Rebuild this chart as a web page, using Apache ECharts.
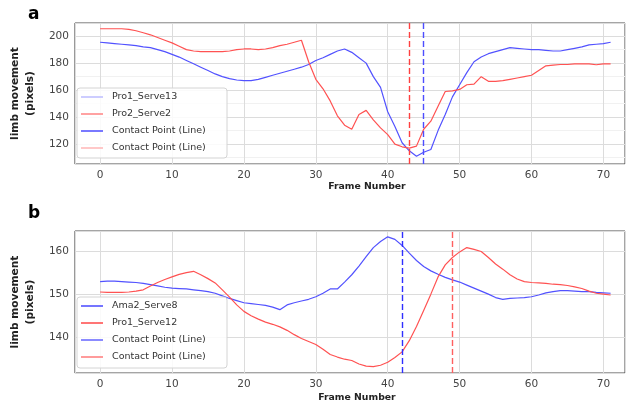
<!DOCTYPE html>
<html>
<head>
<meta charset="utf-8">
<script src="https://cdn.jsdelivr.net/npm/echarts@6/dist/echarts.min.js"></script>
<style>
html,body{margin:0;padding:0;background:#fff;}
#chart{width:628px;height:404px;}
</style>
</head>
<body>
<div id="chart"></div>
<script>
// ---------- data ----------
const frames = Array.from({length: 72}, (_, i) => i);

const topBlueName = 'Pro1_Serve13';
const topBlue = [195.5,195,194.5,194,193.5,193,192,191.5,190,188.5,
  186.5,184.5,182,179.5,177,174.5,172,170,168.5,167.5,
  167,167,168,169.5,171,172.5,174,175.5,177,179,
  182,184,186.5,189,190.5,188,184,180,170,162,
  144,133,121,115,111,114,116,130,142,155,
  164,173,181,184.5,187,188.5,190,191.5,191,190.5,
  190,190,189.5,189,189,190,191,192,193.5,194,
  194.5,195.5];

const topRedName = 'Pro2_Serve2';
const topRed = [205.5,205.5,205.5,205.5,205,204,202.5,201,199,197,
  195,192.5,190,189,188.5,188.5,188.5,188.5,189,190,
  190.5,190.5,190,190.5,191.5,193,194,195.5,197,181,
  168,161,152,141,134,131,142,145,138,132,
  127,120,118,117,118.5,131,137,148,159,159.5,
  160.5,164,164.5,170,166.5,166.5,167,168,169,170,
  171,174.5,178,178.5,179,179,179.5,179.5,179.5,178.8,
  179.5,179.5];

const topContactRed = 43;
const topContactBlue = 45;

const botBlueName = 'Ama2_Serve8';
const botBlue = [152.9,153,153,152.9,152.8,152.7,152.5,152.2,151.9,151.6,
  151.4,151.3,151.2,151,150.8,150.6,150.2,149.6,149,148.5,
  148,147.8,147.6,147.4,147,146.4,147.5,148,148.4,148.8,
  149.4,150.2,151.2,151.2,152.8,154.5,156.5,158.7,160.8,162.2,
  163.3,162.7,161.3,159.5,157.8,156.4,155.4,154.6,153.9,153.3,
  152.8,152.1,151.4,150.7,150,149.2,148.8,149,149.1,149.2,
  149.4,149.8,150.3,150.6,150.8,150.8,150.7,150.6,150.6,150.4,
  150.3,150.2];

const botRedName = 'Pro1_Serve12';
const botRed = [150.5,150.4,150.4,150.4,150.5,150.7,151,151.9,152.7,153.4,
  154,154.6,155,155.3,154.5,153.6,152.6,151,149.3,147.5,
  146,145,144.2,143.5,143,142.4,141.6,140.6,139.7,139,
  138.3,137.2,136,135.4,134.9,134.6,133.8,133.3,133.2,133.5,
  134.2,135.3,136.6,139.2,142.5,146.2,150,154,156.8,158.5,
  159.8,160.8,160.4,159.9,158.5,157,155.8,154.5,153.5,152.9,
  152.7,152.6,152.5,152.3,152.2,152,151.7,151.3,150.7,150.2,
  150,149.8];

const botContactBlue = 42;
const botContactRed = 49;

const contactLabel = 'Contact Point (Line)';
const xTitle = 'Frame Number';
const yTitle = 'limb movement\n(pixels)';
const panelLabels = ['a', 'b'];

// ---------- chart ----------
const FONT = 'DejaVu Sans';
const BLUE = '#5252ff';
const RED = '#ff5252';

function pairs(ys){ return frames.map((x, i) => [x, ys[i]]); }

function xAxisCfg(gridIndex, pad){
  return {
    type: 'value', gridIndex, min: -3.5, max: 73, splitNumber: 8,
    axisLine: {show: false}, axisTick: {show: false},
    axisLabel: {
      color: '#444', fontSize: 10.5, fontFamily: FONT, margin: 6,
      showMinLabel: false, showMaxLabel: false,
      formatter: v => (v % 10 === 0 ? String(v) : '')
    },
    splitLine: {show: true, lineStyle: {color: '#dcdcdc', width: 1}},
    name: xTitle, nameLocation: 'middle', nameGap: pad.gap,
    nameTextStyle: {fontFamily: FONT, fontWeight: 'bold', fontSize: 9.3, color: '#222', padding: [0, 0, 0, pad.shift]}
  };
}

function yAxisCfg(gridIndex, min, max, split, minor){
  return {
    type: 'value', gridIndex, min, max, splitNumber: split,
    axisLine: {show: false}, axisTick: {show: false},
    axisLabel: {
      color: '#444', fontSize: 10.5, fontFamily: FONT, margin: 6,
      showMinLabel: false, showMaxLabel: false,
      formatter: v => (Number.isInteger(v) ? String(v) : '')
    },
    splitLine: {show: true, lineStyle: {color: '#dcdcdc', width: 1}},
    minorTick: {show: false, splitNumber: 2},
    minorSplitLine: {show: minor, lineStyle: {color: '#f1f1f1', width: 1}},
    name: yTitle, nameLocation: 'middle', nameRotate: 90, nameGap: 31,
    nameTextStyle: {fontFamily: FONT, fontWeight: 'bold', fontSize: 10.6, color: '#222', lineHeight: 15}
  };
}

function lineSeries(name, ys, color, xi, markX, markColor){
  const s = {
    name, type: 'line', xAxisIndex: xi, yAxisIndex: xi,
    data: pairs(ys), showSymbol: false, symbol: 'none', smooth: false,
    lineStyle: {color, width: 1.2}, itemStyle: {color},
    animation: false, z: 3
  };
  if (markX !== undefined){
    s.markLine = {
      silent: true, symbol: ['none', 'none'], animation: false,
      label: {show: false},
      lineStyle: {color: markColor, type: [6, 3], width: 1.4},
      data: [{xAxis: markX}]
    };
  }
  return s;
}

function legendGraphic(x0, y0, rows, h){
  const els = [{
    type: 'rect', shape: {x: x0, y: y0, width: 150, height: h, r: 3},
    style: {fill: 'rgba(255,255,255,0.85)', stroke: '#d4d4d4', lineWidth: 1}, z: 10
  }];
  rows.forEach((r, i) => {
    const cy = y0 + 9 + i * 17;
    els.push({type: 'line', shape: {x1: x0 + 4, y1: cy, x2: x0 + 26, y2: cy},
      style: {stroke: r.color, lineWidth: 1.4}, z: 11});
    els.push({type: 'text', x: x0 + 35, y: cy,
      style: {text: r.text, fill: '#333', font: '9.5px "DejaVu Sans"', verticalAlign: 'middle'}, z: 11});
  });
  return els;
}

const chart = echarts.init(document.getElementById('chart'), null, {renderer: 'canvas'});

const option = {
  animation: false,
  backgroundColor: '#fff',
  textStyle: {fontFamily: FONT},
  grid: [
    {left: 71, right: 3, top: 23, height: 141, show: true, borderColor: '#4a4a4a', borderWidth: 1, containLabel: false},
    {left: 71, right: 3, top: 231, height: 142, show: true, borderColor: '#4a4a4a', borderWidth: 1, containLabel: false}
  ],
  xAxis: [xAxisCfg(0, {gap: 18, shift: 34}), xAxisCfg(1, {gap: 20, shift: 14})],
  yAxis: [yAxisCfg(0, 105.25, 209.75, 5, true), yAxisCfg(1, 131.7, 164.65, 3, false)],
  series: [
    lineSeries(topBlueName, topBlue, BLUE, 0, topContactBlue, '#4d4dff'),
    lineSeries(topRedName, topRed, RED, 0, topContactRed, '#ff4040'),
    lineSeries(botBlueName, botBlue, BLUE, 1, botContactBlue, '#2f2fff'),
    lineSeries(botRedName, botRed, RED, 1, botContactRed, '#ff6060')
  ],
  graphic: [
    {type: 'text', left: 28, top: 6, style: {text: panelLabels[0], fill: '#000', font: 'bold 17px "DejaVu Sans"'}},
    {type: 'text', left: 28, top: 205, style: {text: panelLabels[1], fill: '#000', font: 'bold 17px "DejaVu Sans"'}},
    ...legendGraphic(77, 88, [
      {text: topBlueName, color: '#b8b8ff'},
      {text: topRedName, color: '#ff7a7a'},
      {text: contactLabel, color: '#3f3fff'},
      {text: contactLabel, color: '#ffb0b0'}
    ], 70),
    ...legendGraphic(77, 297, [
      {text: botBlueName, color: '#3a3aff'},
      {text: botRedName, color: '#ff3a3a'},
      {text: contactLabel, color: '#5a5aff'},
      {text: contactLabel, color: '#ff7070'}
    ], 71)
  ]
};
chart.setOption(option);
</script>
</body>
</html>
